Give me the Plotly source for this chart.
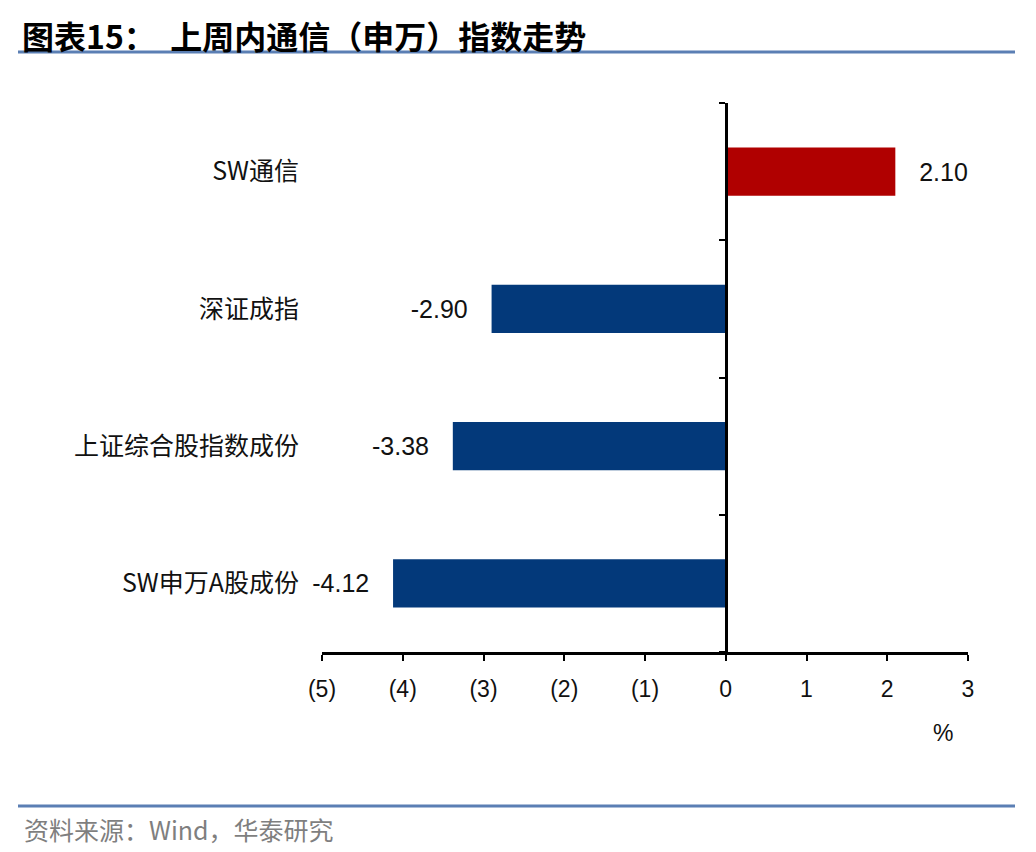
import plotly.graph_objects as go

categories = ["SW通信", "深证成指", "上证综合股指数成份", "SW申万A股成份"]
values = [2.10, -2.90, -3.38, -4.12]
bar_colors = ["#B00000", "#03397A", "#03397A", "#03397A"]
x_tickvals = [-5, -4, -3, -2, -1, 0, 1, 2, 3]
x_ticktext = ["(5)", "(4)", "(3)", "(2)", "(1)", "0", "1", "2", "3"]

NB = "\u00a0"
texts = [(NB * 3 + f"{v:.2f}") if v >= 0 else (f"{v:.2f}" + NB * 3) for v in values]

OFF = 8  # page body margin
FW, FH = 1036 - OFF, 852 - OFF
# plot area in (screen) pixels
L, R, T, B = 322, 968, 103, 652
W, H = R - L, B - T
def px(x):
    return (x - L) / W
def py(y):
    return (B - y) / H

fig = go.Figure()
fig.add_trace(go.Bar(
    y=categories, x=values, orientation="h",
    marker=dict(color=bar_colors, line=dict(width=0)),
    width=0.35,
    text=texts, textposition="outside", cliponaxis=False,
    textfont=dict(family="Liberation Sans, Arial", size=25, color="#111111"),
    showlegend=False, hoverinfo="skip",
))
fig.add_trace(go.Scatter(x=[None], y=[None], yaxis="y2", showlegend=False, hoverinfo="skip"))

zero_pos = (0 - x_tickvals[0]) / (x_tickvals[-1] - x_tickvals[0])

fig.update_layout(
    width=FW, height=FH,
    margin=dict(l=L - OFF, r=FW - (R - OFF), t=T - OFF, b=FH - (B - OFF)),
    paper_bgcolor="white", plot_bgcolor="white",
    xaxis=dict(
        range=[x_tickvals[0], x_tickvals[-1]],
        tickvals=x_tickvals, ticktext=x_ticktext,
        showline=True, linecolor="black", linewidth=3,
        ticks="outside", ticklen=6, tickwidth=2, tickcolor="black",
        showgrid=False, zeroline=False,
        tickfont=dict(family="Liberation Sans, Arial", size=23, color="#111111"),
        ticklabelstandoff=8,
    ),
    yaxis=dict(
        type="category",
        categoryorder="array", categoryarray=categories[::-1],
        range=[-0.5, len(categories) - 0.5],
        showline=False, ticks="", showgrid=False, zeroline=False,
        tickfont=dict(family="Noto Sans CJK SC, Liberation Sans", size=25, color="#111111"),
        ticklabelstandoff=22,
    ),
    yaxis2=dict(
        overlaying="y", anchor="free", position=zero_pos,
        range=[-0.5, len(categories) - 0.5],
        tickvals=[i - 0.5 for i in range(len(categories) + 1)],
        showticklabels=False, showgrid=False, zeroline=False,
        showline=True, linecolor="black", linewidth=3,
        ticks="outside", ticklen=6, tickwidth=2, tickcolor="black",
    ),
    shapes=[
        dict(type="line", xref="paper", yref="paper", x0=px(18), x1=px(1015), y0=py(52), y1=py(52),
             line=dict(color="#5B7FB4", width=3)),
        dict(type="line", xref="paper", yref="paper", x0=px(18), x1=px(1015), y0=py(806), y1=py(806),
             line=dict(color="#5B7FB4", width=3)),
    ],
    annotations=[
        dict(text="<b>图表15：  上周内通信（申万）指数走势</b>", xref="paper", yref="paper",
             x=px(20), y=py(35), xanchor="left", yanchor="middle", showarrow=False,
             font=dict(family="Noto Sans CJK SC", size=32, color="black")),
        dict(text="资料来源：Wind，华泰研究", xref="paper", yref="paper",
             x=px(22), y=py(829), xanchor="left", yanchor="middle", showarrow=False,
             font=dict(family="Noto Sans CJK SC", size=25, color="#7F7F7F")),
        dict(text="%", xref="paper", yref="paper",
             x=px(943), y=py(733), xanchor="center", yanchor="middle", showarrow=False,
             font=dict(family="Liberation Sans, Arial", size=23, color="#111111")),
    ],
)

fig.write_html("out.html")
